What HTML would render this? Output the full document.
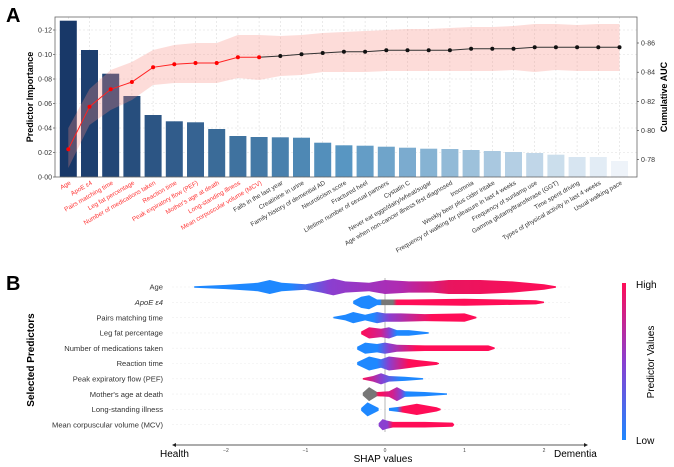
<!DOCTYPE html>
<html><head><meta charset="utf-8"><style>
html,body{margin:0;padding:0;background:#fff;}
svg{display:block;font-family:"Liberation Sans","DejaVu Sans",sans-serif;}
</style></head><body>
<svg id="s" width="674" height="467" viewBox="0 0 674 467" xmlns="http://www.w3.org/2000/svg">
<defs>
<linearGradient id="cb" x1="0" y1="1" x2="0" y2="0">
<stop offset="0" stop-color="#1e88ff"/><stop offset="0.5" stop-color="#8a3fd0"/><stop offset="1" stop-color="#ff0d57"/>
</linearGradient>
</defs>
<text x="6" y="22" font-size="20" font-weight="bold">A</text>
<text x="6" y="290" font-size="20" font-weight="bold">B</text>
<g id="g"></g>
</svg>
<script>
const NS="http://www.w3.org/2000/svg";const g=document.getElementById('g');
function el(t,a,txt){const e=document.createElementNS(NS,t);for(const k in a)e.setAttribute(k,a[k]);if(txt!==undefined)e.textContent=txt;g.appendChild(e);return e;}
const L=55,R=637,T=17,B=177;
const names=["Age","ApoE \u03b54","Pairs matching time","Leg fat percentage","Number of medications taken","Reaction time","Peak expiratory flow (PEF)","Mother's age at death","Long-standing illness","Mean corpuscular volume (MCV)","Falls in the last year","Creatinine in urine","Family history of demential AD","Neuroticism score","Fractured heel","Lifetime number of sexual partners","Cystatin C","Never eat eggs/dairy/wheat/sugar","Age when non-cancer illness first diagnosed","Insomnia","Weekly beer plus cider intake","Frequency of walking for pleasure in last 4 weeks","Frequency of sunlamp use","Gamma glutamyltransferase (GGT)","Time spent driving","Types of physical activity in last 4 weeks","Usual walking pace"];
const tops=[20.7,50,73.7,96,115,121.3,122.3,129,136,137,137.3,137.7,142.7,145.3,145.7,146.7,147.7,148.7,149,150,151,152,153,154.7,157,157,161];
const auc=[149.3,106.7,89.3,82,67.3,64.3,63,63,57.3,57.3,56,54.3,53,51.7,51.7,50.3,50.3,50.3,50.3,48.7,48.7,48.7,47.3,47.3,47.3,47.3,47.3];
const up=[128,89,70,62,50,45,43,43,35,35,36,35,33,32,31,30,29,29,28,27,27,26,24,24,25,24,24];
const lo=[168,125,110,100,85,83,83,83,78,80,76,75,72,72,72,71,71,71,71,71,71,70,72,70,71,71,71];
const cx=i=>68.3+i*21.2;
el('rect',{x:L,y:T,width:R-L,height:B-T,fill:'#fff'});
for(let i=0;i<27;i++)el('line',{x1:cx(i),x2:cx(i),y1:T,y2:B,stroke:'#ddd','stroke-width':0.6,'stroke-dasharray':'2,2'});
for(let v=0;v<=6;v++){const y=B-v*24.5;el('line',{x1:L,x2:R,y1:y,y2:y,stroke:'#ddd','stroke-width':0.6,'stroke-dasharray':'2,2'});
el('text',{x:L-3,y:y+2.5,'font-size':7,'text-anchor':'end',fill:'#333'},'0\u00b7'+String(v*2).padStart(2,'0'));el('line',{x1:L-2,x2:L,y1:y,y2:y,stroke:'#333','stroke-width':0.6});}
function lerp(a,b,t){return Math.round(a+(b-a)*t);}
for(let i=0;i<27;i++){const t=i/26;const c0=[24,56,104],c1=[88,150,194],c2=[238,243,249];let c;
 if(t<0.5){c=[lerp(c0[0],c1[0],t*2),lerp(c0[1],c1[1],t*2),lerp(c0[2],c1[2],t*2)];}else{c=[lerp(c1[0],c2[0],(t-.5)*2),lerp(c1[1],c2[1],(t-.5)*2),lerp(c1[2],c2[2],(t-.5)*2)];}
 el('rect',{x:cx(i)-8.5,y:tops[i],width:17,height:B-tops[i],fill:`rgb(${c})`});}
let p='M';for(let i=0;i<27;i++)p+=cx(i)+','+up[i]+' L';for(let i=26;i>=0;i--)p+=cx(i)+','+lo[i]+(i?' L':' Z');
el('path',{d:p,fill:'rgba(250,140,130,0.3)'});
let lp='';for(let i=0;i<10;i++)lp+=(i?'L':'M')+cx(i)+','+auc[i];el('path',{d:lp,fill:'none',stroke:'#f22','stroke-width':1});
lp='';for(let i=9;i<27;i++)lp+=(i>9?'L':'M')+cx(i)+','+auc[i];el('path',{d:lp,fill:'none',stroke:'#333','stroke-width':1});
for(let i=0;i<27;i++)el('circle',{cx:cx(i),cy:auc[i],r:2,fill:i<10?'#f00':'#111'});
el('rect',{x:L,y:T,width:R-L,height:B-T,fill:'none',stroke:'#666','stroke-width':0.8});
[[0.86,43],[0.84,72.2],[0.82,101.4],[0.80,130.5],[0.78,159.7]].forEach(([v,y])=>{el('line',{x1:R,x2:R+2,y1:y,y2:y,stroke:'#333','stroke-width':0.6});el('text',{x:R+4,y:y+2.5,'font-size':7,fill:'#333'},'0\u00b7'+v.toFixed(2).slice(2));});
el('text',{x:0,y:0,'font-size':9,'font-weight':'bold',transform:'translate(33,97) rotate(-90)','text-anchor':'middle'},'Predictor Importance');
el('text',{x:0,y:0,'font-size':9,'font-weight':'bold',transform:'translate(667,97) rotate(-90)','text-anchor':'middle'},'Cumulative AUC');
for(let i=0;i<27;i++)el('text',{x:0,y:0,'font-size':6.3,'text-anchor':'end',fill:i<10?'#f33':'#333',transform:`translate(${cx(i)+3},${184}) rotate(-30)`},names[i]);
const Z=385,U=79.5,rows=["Age","ApoE \u03b54","Pairs matching time","Leg fat percentage","Number of medications taken","Reaction time","Peak expiratory flow (PEF)","Mother's age at death","Long-standing illness","Mean corpuscular volume (MCV)"];
const ry=i=>287+i*15.3;
for(let i=0;i<10;i++){el('line',{x1:172,x2:570,y1:ry(i),y2:ry(i),stroke:'#eee','stroke-width':0.6,'stroke-dasharray':'2,2'});
 const t=el('text',{x:163,y:ry(i)+2.7,'font-size':7.6,'text-anchor':'end',fill:'#333'},rows[i]);if(i==1)t.setAttribute('font-style','italic');}
el('line',{x1:Z,x2:Z,y1:278,y2:432,stroke:'#999','stroke-width':0.7});
const BL='#1e88ff',PU='#8a3fd0',MG='#b02ab0',RD='#ff0d57',GR='#777';
let gid=0;const HS=1.4;
function shape(row,pts,stops){const id='gr'+(gid++);const lg=document.createElementNS(NS,'linearGradient');lg.setAttribute('id',id);lg.setAttribute('gradientUnits','userSpaceOnUse');
 lg.setAttribute('x1',Z+pts[0][0]*U);lg.setAttribute('x2',Z+pts[pts.length-1][0]*U);lg.setAttribute('y1',0);lg.setAttribute('y2',0);
 const x0=pts[0][0],x1=pts[pts.length-1][0];
 stops.forEach(([x,c])=>{const s=document.createElementNS(NS,'stop');s.setAttribute('offset',Math.max(0,Math.min(1,(x-x0)/(x1-x0))));s.setAttribute('stop-color',c);lg.appendChild(s);});
 document.querySelector('defs').appendChild(lg);
 const y=ry(row);let d='M';pts.forEach((p,k)=>d+=(k?'L':'')+(Z+p[0]*U)+','+(y-p[1]*HS)+' ');for(let k=pts.length-1;k>=0;k--)d+='L'+(Z+pts[k][0]*U)+','+(y+pts[k][1]*HS)+' ';
 el('path',{d:d+'Z',fill:`url(#${id})`});}
shape(0,[[-2.4,.5],[-2.0,1.5],[-1.6,3],[-1.45,5],[-1.3,3],[-1.0,2],[-0.8,4],[-0.65,6],[-0.5,4],[-0.2,3],[0,5],[0.3,4],[0.6,4],[0.8,5],[1.2,5],[1.6,4],[2.0,2],[2.15,.5]],[[-2.4,BL],[-1.2,BL],[-0.7,PU],[0.2,MG],[0.8,'#e8155f'],[2.15,RD]]);
shape(1,[[-0.4,1],[-0.3,4],[-0.2,5],[-0.1,2],[0,2],[0.1,2],[0.3,2],[1.0,2.5],[1.9,1.5],[2.0,.5]],[[-0.4,BL],[-0.06,BL],[-0.04,GR],[0.1,GR],[0.15,RD],[2,RD]]);
shape(2,[[-0.65,.5],[-0.5,2],[-0.4,4],[-0.25,2],[-0.1,4],[0,3],[0.2,3],[0.5,2.5],[1.0,3],[1.15,.5]],[[-0.65,BL],[-0.15,BL],[0.05,PU],[0.6,RD],[1.15,RD]]);
shape(3,[[-0.3,1],[-0.2,4],[-0.05,3],[0.05,4],[0.15,2],[0.3,2],[0.55,.5]],[[-0.3,RD],[-0.05,'#d0208f'],[0.05,PU],[0.15,BL],[0.55,BL]]);
shape(4,[[-0.35,1],[-0.25,4],[-0.1,3],[0,4],[0.15,2.5],[0.5,2],[1.3,2],[1.38,.5]],[[-0.35,BL],[-0.1,BL],[0.05,PU],[0.4,RD],[1.38,RD]]);
shape(5,[[-0.35,1],[-0.2,5],[-0.05,3],[0.05,5],[0.2,4],[0.4,2.5],[0.65,1],[0.68,.3]],[[-0.35,BL],[-0.1,BL],[0.05,PU],[0.3,RD],[0.68,RD]]);
shape(6,[[-0.28,.5],[-0.15,2],[-0.05,4],[0.05,2],[0.25,1.5],[0.48,.5]],[[-0.28,RD],[-0.05,PU],[0.2,BL],[0.48,BL]]);
shape(7,[[-0.28,1],[-0.2,5],[-0.1,1.5],[0.05,2],[0.15,5],[0.25,2],[0.5,1.5],[0.78,.5]],[[-0.28,GR],[-0.12,GR],[-0.08,RD],[0.1,'#d0208f'],[0.2,PU],[0.27,BL],[0.78,BL]]);
shape(8,[[-0.3,1],[-0.22,5],[-0.08,1]],[[-0.3,BL],[-0.08,BL]]);
shape(8,[[0.05,1],[0.2,2],[0.4,4],[0.65,1.5],[0.7,.5]],[[0.05,BL],[0.15,BL],[0.22,RD],[0.7,RD]]);
shape(9,[[-0.08,1],[-0.03,4],[0.02,3],[0.1,2],[0.5,2],[0.85,1.5],[0.87,.3]],[[-0.08,PU],[0.03,PU],[0.1,RD],[0.87,RD]]);
el('line',{x1:174,x2:586,y1:445,y2:445,stroke:'#222','stroke-width':0.8});
el('path',{d:'M172,445 l4,-2 v4 Z',fill:'#222'});el('path',{d:'M588,445 l-4,-2 v4 Z',fill:'#222'});
[-2,-1,0,1,2].forEach(v=>el('text',{x:Z+v*U,y:452,'font-size':5,'text-anchor':'middle',fill:'#444'},v<0?'\u2212'+(-v):String(v)));
el('text',{x:160,y:457,'font-size':10},'Health');
el('text',{x:383,y:462,'font-size':10,'text-anchor':'middle'},'SHAP values');
el('text',{x:554,y:457,'font-size':10},'Dementia');
el('text',{x:0,y:0,'font-size':10,'font-weight':'bold',transform:'translate(34,360) rotate(-90)','text-anchor':'middle'},'Selected Predictors');
el('rect',{x:622,y:283,width:4,height:157,fill:'url(#cb)'});
el('text',{x:636,y:288,'font-size':10},'High');
el('text',{x:636,y:444,'font-size':10},'Low');
el('text',{x:0,y:0,'font-size':10,transform:'translate(654,362) rotate(-90)','text-anchor':'middle'},'Predictor Values');
</script>
</body></html>
